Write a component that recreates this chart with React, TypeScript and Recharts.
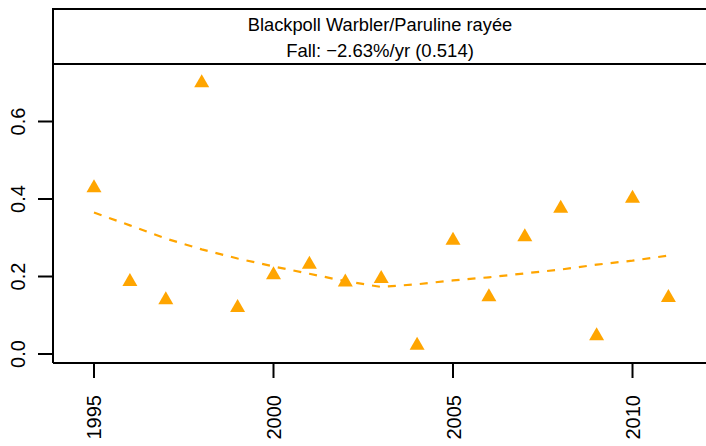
import React from "react";
import { ComposedChart, XAxis, YAxis, Scatter, Line, ReferenceArea } from "recharts";

const years = [1995, 1996, 1997, 1998, 1999, 2000, 2001, 2002, 2003, 2004, 2005, 2006, 2007, 2008, 2009, 2010, 2011];
const observed = [0.434, 0.192, 0.145, 0.705, 0.125, 0.21, 0.237, 0.191, 0.2, 0.028, 0.299, 0.153, 0.308, 0.381, 0.052, 0.407, 0.151];
const trend = [0.365, 0.332, 0.298, 0.27, 0.2465, 0.226, 0.207, 0.188, 0.173, 0.18, 0.19, 0.198, 0.208, 0.218, 0.2305, 0.241, 0.254];

const xTicks = [1995, 2000, 2005, 2010];
const yTicks = [0, 0.2, 0.4, 0.6];
const yTickLabels = ["0.0", "0.2", "0.4", "0.6"];

const titleLine1 = "Blackpoll Warbler/Paruline rayée";
const titleLine2 = "Fall: \u22122.63%/yr (0.514)";

const xDomain: [number, number] = [1993.858, 2012.075];
const yDomain: [number, number] = [-0.0232, 0.8903];
const headerBottom = 0.7484;

const data = years.map((y, i) => ({ year: y, value: observed[i], trend: trend[i] }));

const FONT = "'Liberation Sans', Arial, Helvetica, sans-serif";
const ORANGE = "#FFA500";

const Triangle = (props: any) => {
  const { cx, cy } = props;
  if (cx == null || cy == null) return null;
  const pts = `${cx - 7.5},${cy + 6.5} ${cx + 7.5},${cy + 6.5} ${cx},${cy - 6.5}`;
  return <polygon points={pts} fill={ORANGE} stroke="none" />;
};

const XTick = (props: any) => {
  const { x, y, payload } = props;
  return (
    <text
      x={0}
      y={0}
      transform={`translate(${x + 7.5},${y + 17}) rotate(-90)`}
      textAnchor="end"
      fontSize={20}
      fontFamily={FONT}
      fill="#000"
    >
      {String(payload.value)}
    </text>
  );
};

const YTick = (props: any) => {
  const { x, y, payload } = props;
  const idx = yTicks.indexOf(payload.value);
  const label = idx >= 0 ? yTickLabels[idx] : String(payload.value);
  return (
    <text
      x={0}
      y={0}
      transform={`translate(${x - 13},${y}) rotate(-90)`}
      textAnchor="middle"
      fontSize={20}
      fontFamily={FONT}
      fill="#000"
    >
      {label}
    </text>
  );
};

const HeaderLabel = (props: any) => {
  const vb = props.viewBox || {};
  const cx = vb.x + vb.width / 2;
  const top = vb.y;
  return (
    <g>
      <text x={cx} y={top + 22} textAnchor="middle" fontSize={18.3} fontFamily={FONT} fill="#000">
        {titleLine1}
      </text>
      <text x={cx} y={top + 48} textAnchor="middle" fontSize={18.5} fontFamily={FONT} fill="#000">
        {titleLine2}
      </text>
    </g>
  );
};

export default function App() {
  return (
    <div style={{ position: "fixed", left: 0, top: 0, width: 706, height: 446, overflow: "hidden", background: "#fff" }}>
      <ComposedChart
        width={710}
        height={446}
        data={data}
        margin={{ top: 9, right: 3, bottom: 0, left: 0 }}
      >
        <XAxis
          dataKey="year"
          type="number"
          domain={xDomain}
          ticks={xTicks}
          allowDataOverflow
          height={83}
          tickSize={15}
          tickMargin={0}
          axisLine={{ stroke: "#000", strokeWidth: 2 }}
          tickLine={{ stroke: "#000", strokeWidth: 2 }}
          tick={<XTick />}
          interval={0}
        />
        <YAxis
          type="number"
          domain={yDomain}
          ticks={yTicks}
          allowDataOverflow
          width={53}
          tickSize={15}
          tickMargin={0}
          axisLine={{ stroke: "#000", strokeWidth: 2 }}
          tickLine={{ stroke: "#000", strokeWidth: 2 }}
          tick={<YTick />}
          interval={0}
        />
        <ReferenceArea
          x1={xDomain[0]}
          x2={xDomain[1]}
          y1={headerBottom}
          y2={yDomain[1]}
          fill="#fff"
          fillOpacity={1}
          stroke="#000"
          strokeWidth={2}
          ifOverflow="visible"
          label={(p: any) => <HeaderLabel {...p} />}
        />
        <Line
          dataKey="trend"
          type="linear"
          stroke={ORANGE}
          strokeWidth={2.2}
          strokeDasharray="8 8"
          dot={false}
          activeDot={false}
          isAnimationActive={false}
        />
        <Scatter dataKey="value" shape={<Triangle />} isAnimationActive={false} />
      </ComposedChart>
    </div>
  );
}
